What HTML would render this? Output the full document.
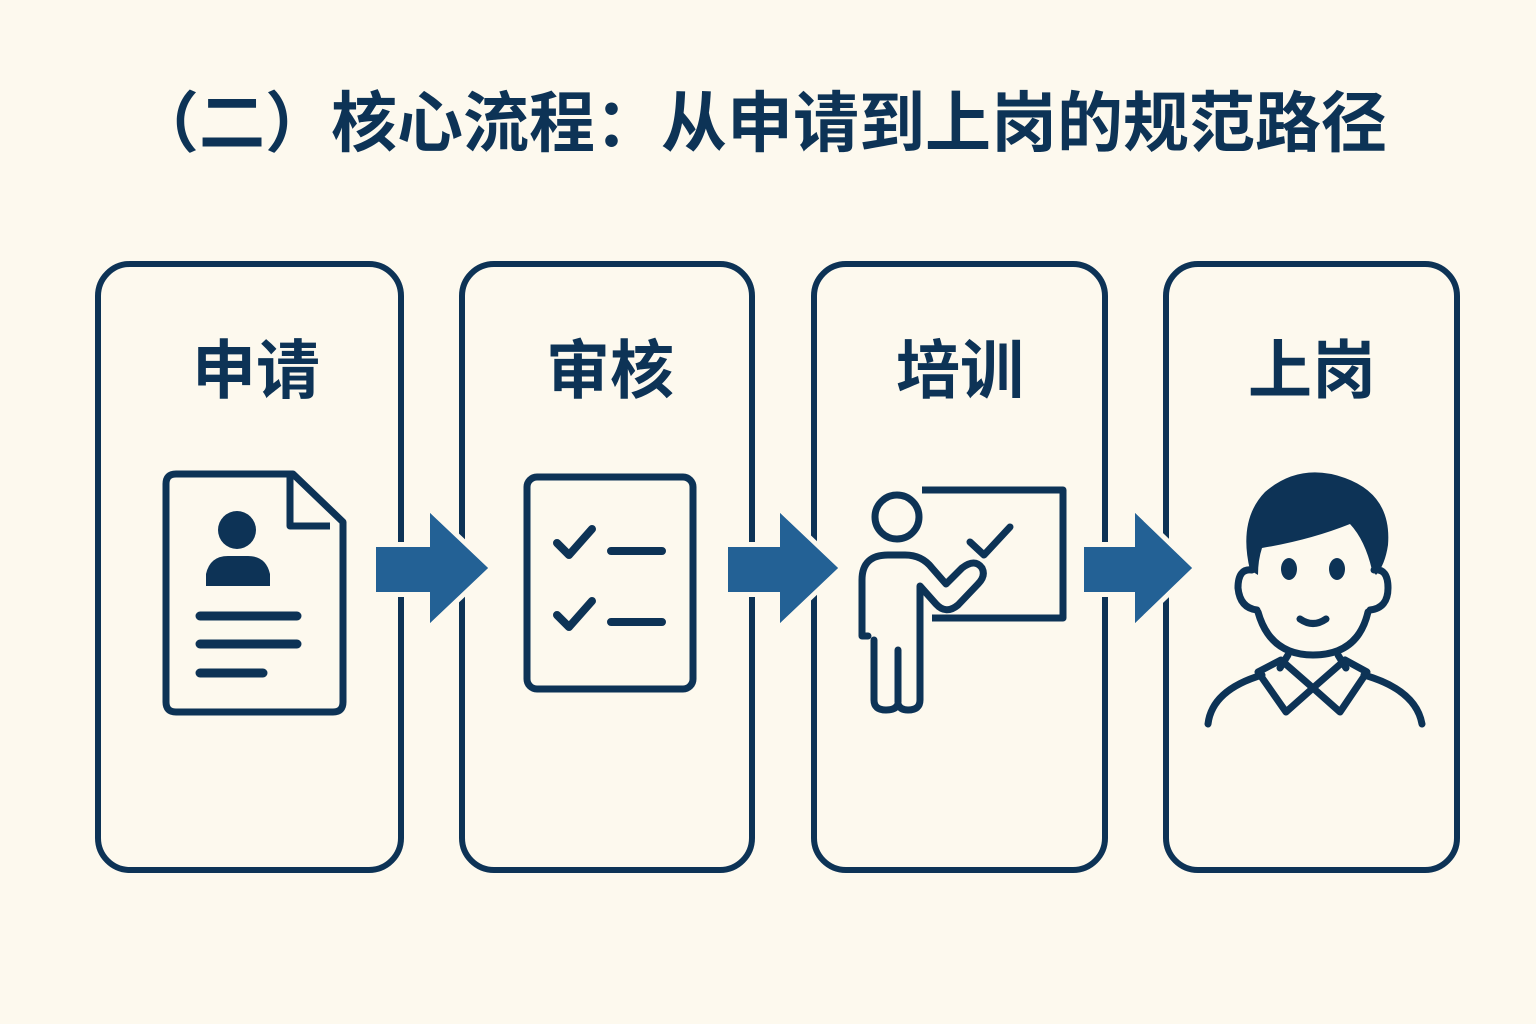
<!DOCTYPE html>
<html><head><meta charset="utf-8"><style>
html,body{margin:0;padding:0;background:#fdf9ee;}
svg{display:block}
text{font-family:"Liberation Sans","Noto Sans CJK SC",sans-serif;font-weight:bold;fill:#0d3356}
</style></head><body>
<svg width="1536" height="1024" viewBox="0 0 1536 1024">
<rect width="1536" height="1024" fill="#fdf9ee"/>
<text x="760" y="146" font-size="66" text-anchor="middle">（二）核心流程：从申请到上岗的规范路径</text>
<g fill="none" stroke="#0d3356" stroke-width="6">
<rect x="98" y="264" width="303" height="606" rx="32"/>
<rect x="462" y="264" width="290" height="606" rx="32"/>
<rect x="814" y="264" width="291" height="606" rx="32"/>
<rect x="1166" y="264" width="291" height="606" rx="32"/>
</g>
<text x="256" y="393" font-size="64" text-anchor="middle">申请</text>
<text x="610" y="393" font-size="64" text-anchor="middle">审核</text>
<text x="960" y="393" font-size="64" text-anchor="middle">培训</text>
<text x="1312" y="393" font-size="64" text-anchor="middle">上岗</text>
<g fill="#236195" stroke="#fdf9ee" stroke-width="10" stroke-linejoin="miter" paint-order="stroke">
<path d="M376,547 L430,547 L430,513 L488,568 L430,623 L430,592 L376,592 Z"/>
<path d="M728,547 L780,547 L780,513 L838,568 L780,623 L780,592 L728,592 Z"/>
<path d="M1084,547 L1135,547 L1135,513 L1192,568 L1135,623 L1135,592 L1084,592 Z"/>
</g>
<g fill="#236195">
<path d="M376,547 L430,547 L430,513 L488,568 L430,623 L430,592 L376,592 Z"/>
<path d="M728,547 L780,547 L780,513 L838,568 L780,623 L780,592 L728,592 Z"/>
<path d="M1084,547 L1135,547 L1135,513 L1192,568 L1135,623 L1135,592 L1084,592 Z"/>
</g>
<g fill="none" stroke="#0d3356" stroke-width="7" stroke-linecap="round" stroke-linejoin="round">
<path d="M176,474 L293,474 L343,522 L343,702 Q343,712 333,712 L176,712 Q166,712 166,702 L166,484 Q166,474 176,474 Z"/>
<path d="M290,476 L290,526 L330,526" stroke-linecap="butt"/>
<path d="M200,616 L297,616 M200,644 L297,644 M200,673 L263,673" stroke-width="9"/>
<rect x="527" y="477" width="166" height="212" rx="10"/>
<path d="M557,543 L569,555 L592,529 M611,551 L662,551 M557,615 L569,627 L592,601 M611,622 L662,622" stroke-width="8"/>
<circle cx="897" cy="517" r="22"/>
<path d="M922,490 L1063,490 L1063,618 L932,618" stroke-linecap="butt"/>
<path d="M970,542 L984,555 L1010,527"/>
<path d="M868,636 L862,636 L862,580 Q862,555 888,555 L905,555 Q922,555 932,568 L946,584 L962,568 Q975,558 982,568 Q986,576 978,584 L958,605 Q946,615 936,604 L920,586 L920,700 Q920,710 908,710 Q900,710 898,704 Q896,710 886,710 Q874,710 874,700 L874,640"/>
<path d="M898,650 L898,702"/>
<path d="M1257,610 Q1240,608 1238,588 Q1238,568 1252,570"/>
<path d="M1370,610 Q1388,608 1388,588 Q1388,568 1374,570"/>
<path d="M1258,612 Q1270,655 1313,655 Q1358,655 1368,612"/>
<path d="M1288,655 L1280,668 M1338,655 L1346,668"/>
<path d="M1258,672 L1286,712 L1313,688 L1340,712 L1367,672 L1345,660 L1313,688 L1281,660 Z"/>
<path d="M1208,724 Q1212,690 1262,675 M1364,675 Q1416,690 1422,724"/>
<path d="M1300,619 Q1313,628 1326,619"/>
</g>
<g fill="#0d3356">
<circle cx="237" cy="530" r="19"/>
<path d="M206,586 L206,574 Q210,556 228,556 L248,556 Q266,556 270,574 L270,586 Z"/>
<path d="M1250,570 Q1238,520 1265,492 Q1300,462 1345,478 Q1392,495 1388,545 Q1385,565 1376,575 L1372,570 Q1365,540 1350,524 Q1310,540 1262,548 Q1258,560 1258,575 Z"/>
<ellipse cx="1289" cy="569" rx="8" ry="11"/>
<ellipse cx="1337" cy="569" rx="8" ry="11"/>
</g>
</svg>
</body></html>
